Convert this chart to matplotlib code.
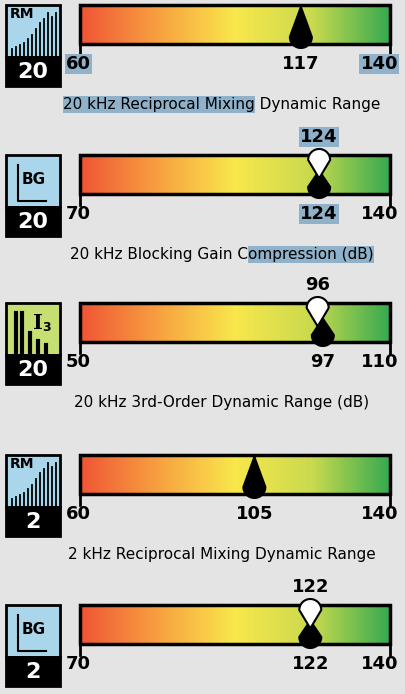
import matplotlib
matplotlib.use("Agg")
import matplotlib.pyplot as plt
import numpy as np
from matplotlib.colors import LinearSegmentedColormap
from matplotlib.patches import Rectangle, PathPatch
from matplotlib.path import Path

titles = [
    "20 kHz Reciprocal Mixing Dynamic Range",
    "20 kHz Blocking Gain Compression (dB)",
    "20 kHz 3rd-Order Dynamic Range (dB)",
    "2 kHz Reciprocal Mixing Dynamic Range",
    "2 kHz Blocking Gain Compression (dB)",
]
scale_min = [60, 70, 50, 60, 70]
scale_max = [140, 140, 110, 140, 140]
upper_vals = [None, 124, 96, None, 122]
lower_vals = [117, 124, 97, 105, 122]
icon_kind = ["RM", "BG", "I3", "RM", "BG"]
icon_num = ["20", "20", "20", "2", "2"]

BG = "#e4e4e4"
HL = "#8fb1c9"
BAR_X0, BAR_X1 = 80, 390
tops = [5, 155, 303, 455, 605]

cmap = LinearSegmentedColormap.from_list(
    "meter", ["#ef5535", "#f7a040", "#f9e74c", "#c9da4e", "#36aa50"])

fig = plt.figure(figsize=(4.06, 6.94), dpi=100, facecolor=BG)
ax = fig.add_axes([0, 0, 1, 1])
ax.set_xlim(0, 406)
ax.set_ylim(694, 0)
ax.axis("off")
ax.set_facecolor(BG)


def xpos(v, i):
    return BAR_X0 + (v - scale_min[i]) / (scale_max[i] - scale_min[i]) * (BAR_X1 - BAR_X0)


def drop(x, y_tip, y_end, fc="black"):
    # teardrop: pointed tip at y_tip, round end at y_end
    r = 11
    sgn = 1 if y_end > y_tip else -1
    cy = y_end - sgn * r
    th = np.linspace(0, np.pi, 30)
    pts = [(x, y_tip), (x + r, cy)]
    pts += [(x + r * np.cos(t), cy + sgn * r * np.sin(t)) for t in th]
    pts += [(x, y_tip)]
    ax.add_patch(PathPatch(Path(pts), fc=fc, ec="black", lw=1.5, zorder=5))


def icon(i, top):
    kind = icon_kind[i]
    x0, w = 6, 54
    col = "#c6df72" if kind == "I3" else "#a9d6ea"
    ax.add_patch(Rectangle((x0, top), w, 52, fc=col, ec="black", lw=2, zorder=2))
    ax.add_patch(Rectangle((x0, top + 52), w, 29, fc="black", ec="black", lw=2, zorder=2))
    ax.text(x0 + w / 2, top + 67, icon_num[i], color="white", ha="center", va="center",
            fontsize=16, fontweight="bold", zorder=3)
    if kind == "RM":
        ax.text(x0 + 4, top + 9, "RM", fontsize=10, fontweight="bold", va="center", zorder=3)
        hs = [8, 10, 12, 14, 18, 22, 28, 34, 38, 44, 40, 44]
        for k, h in enumerate(hs):
            xx = x0 + 6 + k * 4
            ax.plot([xx, xx], [top + 52, top + 52 - h], color="black", lw=1.3, zorder=3)
    elif kind == "BG":
        ax.plot([x0 + 12, x0 + 12, x0 + 40], [top + 10, top + 46, top + 46],
                color="black", lw=1.5, zorder=3)
        ax.text(x0 + 28, top + 24, "BG", fontsize=11, fontweight="bold",
                ha="center", va="center", zorder=3)
    else:
        for xx, h in [(10, 42), (16, 42), (24, 22), (32, 14), (40, 10)]:
            ax.plot([x0 + xx, x0 + xx], [top + 52, top + 52 - h], color="black", lw=3, zorder=3)
        ax.text(x0 + 32, top + 20, "I", fontsize=15, fontweight="bold", family="serif",
                ha="center", va="center", zorder=3)
        ax.text(x0 + 41, top + 24, "3", fontsize=9, fontweight="bold",
                ha="center", va="center", zorder=3)


fig.canvas.draw()
renderer = fig.canvas.get_renderer()


def highlight(t, x, y, start, end):
    # shaded selection box behind characters start:end of text t
    tmp = ax.text(x, y, t[:start] or " ", fontsize=11, ha="left", va="center")
    w0 = tmp.get_window_extent(renderer).width if start > 0 else 0
    tmp.set_text(t[:end])
    w1 = tmp.get_window_extent(renderer).width
    tmp.remove()
    ax.add_patch(Rectangle((x + w0, y - 8), w1 - w0, 17, fc=HL, ec="none", zorder=1))


for i, top in enumerate(tops):
    y0, y1 = top, top + 39
    ax.imshow(np.linspace(0, 1, 256)[None, :], cmap=cmap, aspect="auto",
              extent=(BAR_X0, BAR_X1, y1, y0), zorder=2)
    ax.add_patch(Rectangle((BAR_X0, y0), BAR_X1 - BAR_X0, y1 - y0, fc="none",
                           ec="black", lw=2.5, zorder=3))
    for xx in (BAR_X0, BAR_X1):
        ax.plot([xx, xx], [y1, y1 + 11], color="black", lw=2, zorder=3)
    ly = y1 + 20
    lo = ax.text(BAR_X0 - 14, ly, str(scale_min[i]), fontsize=13, fontweight="bold",
                 ha="left", va="center", zorder=4)
    hi = ax.text(BAR_X1 + 8, ly, str(scale_max[i]), fontsize=13, fontweight="bold",
                 ha="right", va="center", zorder=4)
    lv = lower_vals[i]
    xl = xpos(lv, i)
    drop(xl, y0 + (y1 - y0) * 0.4 if upper_vals[i] is not None else y0 + 2, y1 + 4)
    lt = ax.text(xl, ly, str(lv), fontsize=13, fontweight="bold", ha="center",
                 va="center", zorder=4)
    uv = upper_vals[i]
    if uv is not None:
        xu = xpos(uv, i)
        drop(xu, y0 + (y1 - y0) * 0.6, y0 - 6, fc="white")
        ut = ax.text(xu, y0 - 18, str(uv), fontsize=13, fontweight="bold", ha="center",
                     va="center", zorder=4)
    if i == 0:
        lo.set_bbox(dict(fc=HL, ec="none", pad=1))
        hi.set_bbox(dict(fc=HL, ec="none", pad=1))
    if i == 1:
        lt.set_bbox(dict(fc=HL, ec="none", pad=1))
        ut.set_bbox(dict(fc=HL, ec="none", pad=1))
    icon(i, top)
    ty = top + 99
    if ty < 690:  # last caption falls below the visible area
        ax.text(222, ty, titles[i], fontsize=11, ha="center", va="center", zorder=4)

# selection highlights in the first two captions
for i, (s, e) in [(0, (0, 24)), (1, (22, 37))]:
    t = titles[i]
    tmp = ax.text(222, tops[i] + 99, t, fontsize=11, ha="center", va="center")
    w = tmp.get_window_extent(renderer).width
    tmp.remove()
    highlight(t, 222 - w / 2, tops[i] + 99, s, e)

fig.savefig("out.png", dpi=100, facecolor=BG)
